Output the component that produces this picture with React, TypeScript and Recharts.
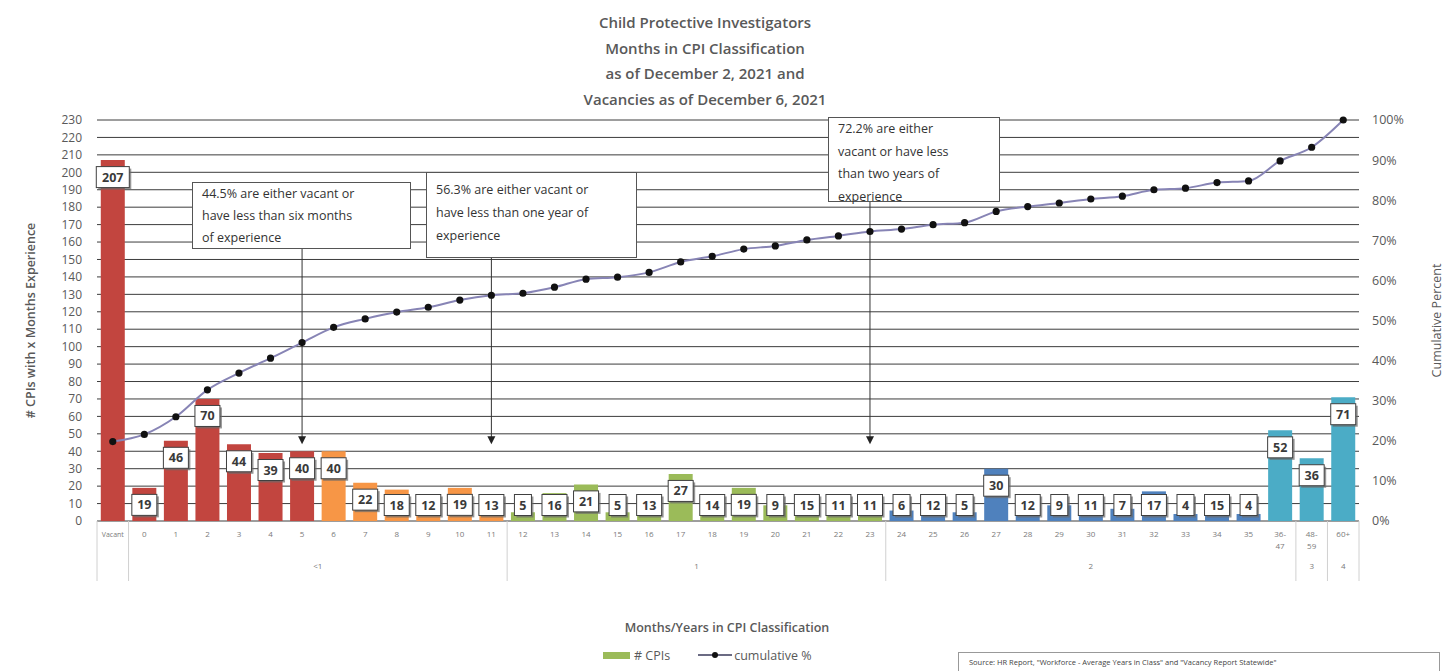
import React from 'react';
import {
  ComposedChart,
  Bar,
  Line,
  XAxis,
  YAxis,
  CartesianGrid,
  Cell,
  LabelList,
  ReferenceLine,
  ReferenceDot,
} from 'recharts';

const categories = [
  'Vacant', '0', '1', '2', '3', '4', '5', '6', '7', '8', '9', '10', '11',
  '12', '13', '14', '15', '16', '17', '18', '19', '20', '21', '22', '23',
  '24', '25', '26', '27', '28', '29', '30', '31', '32', '33', '34', '35',
  '36-47', '48-59', '60+',
];

const cpiCounts = [
  207, 19, 46, 70, 44, 39, 40, 40, 22, 18, 12, 19, 13,
  5, 16, 21, 5, 13, 27, 14, 19, 9, 15, 11, 11,
  6, 12, 5, 30, 12, 9, 11, 7, 17, 4, 15, 4,
  52, 36, 71,
];

const cumulativePct = [
  19.8, 21.6, 26.0, 32.7, 36.9, 40.6, 44.5, 48.3, 50.4, 52.1, 53.3, 55.1, 56.3,
  56.8, 58.3, 60.3, 60.8, 62.0, 64.6, 66.0, 67.8, 68.6, 70.1, 71.1, 72.2,
  72.8, 73.9, 74.4, 77.2, 78.4, 79.3, 80.3, 81.0, 82.6, 83.0, 84.4, 84.8,
  89.8, 93.2, 100,
];

// year groups on the second axis row (index ranges into categories)
const yearGroups = [
  { label: '<1', from: 1, to: 12 },
  { label: '1', from: 13, to: 24 },
  { label: '2', from: 25, to: 37 },
  { label: '3', from: 38, to: 38 },
  { label: '4', from: 39, to: 39 },
];

const leftTicks = Array.from({ length: 24 }, (_, i) => i * 10);
const rightTicks = [0, 10, 20, 30, 40, 50, 60, 70, 80, 90, 100];

const callouts = [
  { at: '5', top: 156, lines: ['44.5% are either vacant or', 'have less than six months', 'of experience'], box: { left: 192, top: 182, width: 219, height: 67, pad: 0, lh: 22 } },
  { at: '11', top: 151, lines: ['56.3% are either vacant or', 'have less than one year of', 'experience'], box: { left: 426, top: 172, width: 211, height: 86, pad: 5, lh: 23 } },
  { at: '23', top: 183, lines: ['72.2% are either', 'vacant or have less', 'than two years of', 'experience'], box: { left: 828, top: 117, width: 172, height: 85, pad: 0, lh: 22.5 } },
];

const data = categories.map((c, i) => ({ label: c, cpis: cpiCounts[i], cum: cumulativePct[i] }));

const W = 1450;
const H = 671;
const PLOT_LEFT = 97;
const PLOT_RIGHT = 1359;
const PLOT_BOTTOM = 521;
const BAND = (PLOT_RIGHT - PLOT_LEFT) / categories.length;
const GRAY = '#595959';
const FONT = '"Open Sans", "Liberation Sans", sans-serif';

const colorFor = (i: number) => {
  if (i <= 6) return '#C2453F';
  if (i <= 12) return '#F79646';
  if (i <= 24) return '#9BBB59';
  if (i <= 36) return '#4F81BD';
  return '#4BACC6';
};

const BoxLabel = (props: any) => {
  const { x, y, width, height, value } = props;
  const cx = x + width / 2;
  const cy = Math.min(y + 17, y + height - 16);
  const w = String(value).length * 8 + 9;
  const h = 21;
  return (
    <g>
      <rect x={cx - w / 2 + 2} y={cy - h / 2 + 2} width={w} height={h} fill="#6b6b6b" opacity={0.7} />
      <rect x={cx - w / 2} y={cy - h / 2} width={w} height={h} fill="#fff" stroke="#404040" strokeWidth={1} />
      <text x={cx} y={cy + 4.5} textAnchor="middle" fontSize={12.5} fontWeight={700} fill="#3a3a3a" fontFamily={FONT}>
        {value}
      </text>
    </g>
  );
};

const CategoryTick = (props: any) => {
  const { x, payload, index } = props;
  const label = String(payload.value);
  const parts = label.includes('-') ? [label.split('-')[0] + '-', label.split('-')[1]] : [label];
  const group = yearGroups.find((g) => g.from === index);
  const els: React.ReactNode[] = [];
  parts.forEach((p, k) => {
    els.push(
      <text key={'t' + k} x={x} y={PLOT_BOTTOM + 16 + k * 12} textAnchor="middle" fontSize={label === 'Vacant' ? 7 : 8} fill="#7a7a7a" fontFamily={FONT}>
        {p}
      </text>
    );
  });
  if (index === 0 || group) {
    els.push(<line key="dl" x1={x - BAND / 2} x2={x - BAND / 2} y1={PLOT_BOTTOM} y2={PLOT_BOTTOM + 60} stroke="#d0d0d0" />);
  }
  if (index === categories.length - 1) {
    els.push(<line key="dr" x1={x + BAND / 2} x2={x + BAND / 2} y1={PLOT_BOTTOM} y2={PLOT_BOTTOM + 60} stroke="#d0d0d0" />);
  }
  if (group) {
    const gx = x + ((group.to - group.from) / 2) * BAND;
    els.push(
      <text key="g" x={gx} y={PLOT_BOTTOM + 48} textAnchor="middle" fontSize={8} fill="#7a7a7a" fontFamily={FONT}>
        {group.label}
      </text>
    );
  }
  return <g>{els}</g>;
};

const Arrowhead = (props: any) => {
  const { cx, cy } = props;
  return <path d={`M${cx - 4},${cy - 8} L${cx + 4},${cy - 8} L${cx},${cy} Z`} fill="#222" />;
};

export default function App() {
  return (
    <div style={{ position: 'absolute', left: 0, top: 0, width: W, height: H, background: '#fff', overflow: 'hidden', fontFamily: FONT }}>
      <div style={{ position: 'absolute', left: 505, top: 10, width: 400, textAlign: 'center', color: GRAY, fontWeight: 600, fontSize: 15, lineHeight: '25.5px' }}>
        <div>Child Protective Investigators</div>
        <div>Months in CPI Classification</div>
        <div>as of December 2, 2021 and</div>
        <div>Vacancies as of December 6, 2021</div>
      </div>

      <ComposedChart
        width={W}
        height={H}
        data={data}
        margin={{ top: 120, right: 31, bottom: 90, left: 37 }}
        barCategoryGap="12%"
        style={{ position: 'absolute', left: 0, top: 0 }}
      >
        <CartesianGrid yAxisId="left" vertical={false} stroke="#3c3c3c" />
        <XAxis
          dataKey="label"
          interval={0}
          height={60}
          axisLine={false}
          tickLine={false}
          tick={<CategoryTick />}
        />
        <YAxis
          yAxisId="left"
          width={60}
          domain={[0, 230]}
          ticks={leftTicks}
          interval={0}
          axisLine={false}
          tickLine={false}
          tickSize={6}
          tickMargin={9}
          tick={{ fontSize: 12, fill: GRAY, fontFamily: FONT }}
          label={(p: any) => {
            const vb = p.viewBox;
            const cx = vb.x - 2;
            const cy = vb.y + vb.height / 2;
            return (
              <text x={cx} y={cy} transform={`rotate(-90 ${cx} ${cy})`} textAnchor="middle" fontSize={12.5} fontWeight={600} fill={GRAY} fontFamily={FONT}>
                # CPIs with x Months Experience
              </text>
            );
          }}
        />
        <YAxis
          yAxisId="right"
          orientation="right"
          width={60}
          domain={[0, 100]}
          ticks={rightTicks}
          interval={0}
          axisLine={false}
          tickLine={false}
          tickSize={6}
          tickMargin={7}
          tickFormatter={(v: number) => `${v}%`}
          tick={{ fontSize: 12.5, fill: GRAY, fontFamily: FONT }}
          label={(p: any) => {
            const vb = p.viewBox;
            const cx = vb.x + vb.width + 22;
            const cy = vb.y + vb.height / 2;
            return (
              <text x={cx} y={cy} transform={`rotate(-90 ${cx} ${cy})`} textAnchor="middle" fontSize={12.5} fill={GRAY} fontFamily={FONT}>
                Cumulative Percent
              </text>
            );
          }}
        />
        <Bar yAxisId="left" dataKey="cpis" isAnimationActive={false}>
          {data.map((_, i) => (
            <Cell key={i} fill={colorFor(i)} />
          ))}
          <LabelList dataKey="cpis" content={<BoxLabel />} />
        </Bar>
        <Line
          yAxisId="right"
          dataKey="cum"
          type="monotone"
          stroke="#8784B5"
          strokeWidth={2}
          dot={{ r: 2.6, fill: '#111', stroke: '#111' }}
          activeDot={false}
          isAnimationActive={false}
        />
        {callouts.map((c) => (
          <ReferenceLine
            key={'l' + c.at}
            yAxisId="left"
            segment={[{ x: c.at, y: c.top }, { x: c.at, y: 47 }]}
            stroke="#333"
            strokeWidth={1}
          />
        ))}
        {callouts.map((c) => (
          <ReferenceDot key={'d' + c.at} yAxisId="left" x={c.at} y={44} shape={<Arrowhead />} />
        ))}
      </ComposedChart>

      {callouts.map((c) => (
        <div
          key={'b' + c.at}
          style={{
            position: 'absolute',
            left: c.box.left,
            top: c.box.top,
            width: c.box.width,
            height: c.box.height,
            boxSizing: 'border-box',
            background: '#fff',
            border: '1px solid #555',
            padding: `${c.box.pad}px 9px 0`,
            fontSize: 12.5,
            lineHeight: `${c.box.lh}px`,
            color: '#333',
            whiteSpace: 'nowrap',
          }}
        >
          {c.lines.map((l) => (
            <div key={l}>{l}</div>
          ))}
        </div>
      ))}

      <div style={{ position: 'absolute', left: 527, top: 619, width: 400, textAlign: 'center', color: GRAY, fontWeight: 600, fontSize: 12.5 }}>
        Months/Years in CPI Classification
      </div>
      <div style={{ position: 'absolute', left: 603, top: 646, height: 18, display: 'flex', alignItems: 'center', color: GRAY, fontSize: 12.5 }}>
        <span style={{ display: 'inline-block', width: 27, height: 7, background: '#9BBB59', marginRight: 4 }} />
        <span># CPIs</span>
        <svg width={34} height={10} style={{ marginLeft: 28, marginRight: 2 }}>
          <line x1={0} x2={34} y1={5} y2={5} stroke="#3a3a5a" strokeWidth={1.5} />
          <circle cx={17} cy={5} r={3} fill="#111" />
        </svg>
        <span>cumulative %</span>
      </div>
      <div
        style={{
          position: 'absolute',
          left: 958,
          top: 652,
          width: 482,
          height: 30,
          boxSizing: 'border-box',
          border: '1px solid #999',
          fontSize: 7.5,
          padding: '4px 10px',
          color: '#444',
        }}
      >
        Source: HR Report, "Workforce - Average Years in Class" and "Vacancy Report Statewide"
      </div>
    </div>
  );
}
